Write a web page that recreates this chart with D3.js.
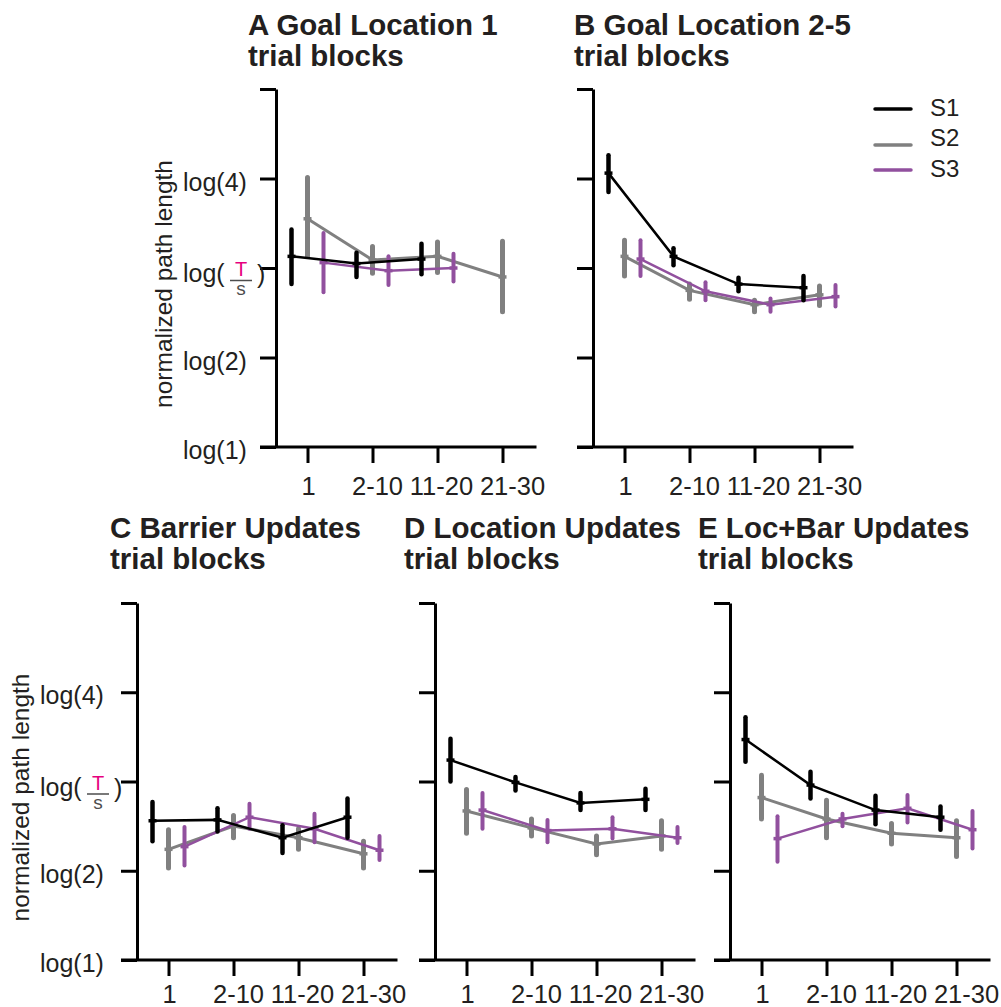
<!DOCTYPE html>
<html>
<head>
<meta charset="utf-8">
<script src="https://cdn.jsdelivr.net/npm/d3@7"></script>
<style>
  body { margin: 0; background: #fff; }
  svg { display: block; font-family: "Liberation Sans", Arial, Helvetica, sans-serif; }
</style>
</head>
<body>
<div id="chart"></div>
<script>
const width = 1001, height = 1007;

const blocks = ["1", "2-10", "11-20", "21-30"];
const subjects = ["S1", "S2", "S3"];
const subjectColors = ["#000000", "#808080", "#91509e"];
const yTickValues = [0, 1, 2, 3, 4];
const yTickLabels = ["log(1)", "log(2)", "log(T/S)", "log(4)", ""];

// each entry: [mean, low, high], null = no point
const goal1_S1 = [[2.13, 1.82, 2.43], [2.05, 1.90, 2.17], [2.10, 1.93, 2.27], null];
const goal1_S2 = [[2.55, 2.13, 3.01], [2.09, 1.94, 2.24], [2.13, 1.95, 2.29], [1.90, 1.51, 2.30]];
const goal1_S3 = [[2.06, 1.73, 2.39], [1.97, 1.81, 2.13], [2.00, 1.85, 2.16], null];

const goal25_S1 = [[3.06, 2.85, 3.26], [2.13, 2.03, 2.22], [1.82, 1.74, 1.89], [1.78, 1.64, 1.91]];
const goal25_S2 = [[2.13, 1.91, 2.31], [1.75, 1.65, 1.82], [1.59, 1.51, 1.64], [1.70, 1.58, 1.80]];
const goal25_S3 = [[2.10, 1.91, 2.31], [1.74, 1.64, 1.84], [1.59, 1.51, 1.66], [1.68, 1.57, 1.81]];

const barrier_S1 = [[1.56, 1.33, 1.77], [1.57, 1.44, 1.70], [1.37, 1.20, 1.51], [1.60, 1.37, 1.81]];
const barrier_S2 = [[1.24, 1.03, 1.46], [1.50, 1.37, 1.62], [1.37, 1.24, 1.47], [1.19, 1.03, 1.33]];
const barrier_S3 = [[1.27, 1.06, 1.49], [1.60, 1.47, 1.75], [1.47, 1.32, 1.64], [1.23, 1.12, 1.39]];

const location_S1 = [[2.24, 2.00, 2.48], [1.99, 1.90, 2.05], [1.76, 1.68, 1.87], [1.80, 1.68, 1.92]];
const location_S2 = [[1.67, 1.42, 1.91], [1.48, 1.39, 1.58], [1.30, 1.18, 1.39], [1.39, 1.24, 1.56]];
const location_S3 = [[1.68, 1.47, 1.87], [1.45, 1.32, 1.57], [1.47, 1.36, 1.60], [1.37, 1.31, 1.49]];

const locbar_S1 = [[2.47, 2.22, 2.72], [1.96, 1.81, 2.11], [1.68, 1.52, 1.84], [1.60, 1.46, 1.72]];
const locbar_S2 = [[1.82, 1.58, 2.07], [1.58, 1.37, 1.79], [1.42, 1.30, 1.53], [1.37, 1.16, 1.56]];
const locbar_S3 = [[1.36, 1.10, 1.61], [1.58, 1.50, 1.64], [1.70, 1.54, 1.85], [1.46, 1.25, 1.67]];

const panels = [
  { letter: "A", name: "Goal Location 1", series: [goal1_S1, goal1_S2, goal1_S3],
    axisX: 276, top: 89, bottom: 447, titleX: 248, titleY: 35, labelX: 183, xLabelDy: 48 },
  { letter: "B", name: "Goal Location 2-5", series: [goal25_S1, goal25_S2, goal25_S3],
    axisX: 593, top: 89, bottom: 447, titleX: 574, titleY: 35, labelX: null, xLabelDy: 48 },
  { letter: "C", name: "Barrier Updates", series: [barrier_S1, barrier_S2, barrier_S3],
    axisX: 137, top: 603, bottom: 960, titleX: 110, titleY: 538, labelX: 40, xLabelDy: 43 },
  { letter: "D", name: "Location Updates", series: [location_S1, location_S2, location_S3],
    axisX: 435, top: 603, bottom: 960, titleX: 404, titleY: 538, labelX: null, xLabelDy: 43 },
  { letter: "E", name: "Loc+Bar Updates", series: [locbar_S1, locbar_S2, locbar_S3],
    axisX: 730, top: 603, bottom: 960, titleX: 698, titleY: 538, labelX: null, xLabelDy: 43 }
];

const svg = d3.select("#chart").append("svg")
  .attr("width", width)
  .attr("height", height);

const tickLen = 16;
const offsets = [-16, 0, 16];      // S1 / S2 / S3 shift around each block
const lineWidths = [2.5, 3, 2.5];
const barWidths = [4.5, 5, 4];
const drawOrder = [1, 2, 0];
const xLabelShift = [1, 5, 4, 10];  // labels sit a bit right of their ticks in the original

panels.forEach(p => {
  const g = svg.append("g");

  const x = d3.scalePoint()
    .domain(blocks)
    .range([p.axisX + 31.5, p.axisX + 31.5 + 195]);
  const y = d3.scaleLinear()
    .domain([0, 4])
    .range([p.bottom, p.top]);

  // title
  const title = g.append("text")
    .attr("x", p.titleX)
    .attr("y", p.titleY)
    .attr("font-size", 29.5)
    .attr("font-weight", "bold")
    .attr("fill", "#231f20");
  title.append("tspan").text(p.letter + " " + p.name);
  title.append("tspan")
    .attr("x", p.titleX)
    .attr("dy", 31)
    .text("trial blocks");

  // y axis
  const yAxis = g.append("g")
    .attr("transform", `translate(${p.axisX},0)`)
    .call(d3.axisLeft(y).tickValues(yTickValues).tickSize(tickLen).tickSizeOuter(0).tickFormat(""));
  yAxis.selectAll("path, line").attr("stroke", "#000").attr("stroke-width", 3);

  // x axis line, starts under the log(1) tick
  g.append("line")
    .attr("x1", p.axisX - tickLen).attr("x2", x(blocks[3]) + 34)
    .attr("y1", p.bottom).attr("y2", p.bottom)
    .attr("stroke", "#000").attr("stroke-width", 3);

  const xAxis = g.append("g")
    .attr("transform", `translate(0,${p.bottom})`)
    .call(d3.axisBottom(x).tickSize(tickLen).tickSizeOuter(0).tickFormat(""));
  xAxis.select(".domain").remove();
  xAxis.selectAll("line").attr("stroke", "#000").attr("stroke-width", 3);

  g.selectAll("text.xlab")
    .data(blocks)
    .enter().append("text")
    .attr("class", "xlab")
    .attr("x", (d, i) => x(d) + xLabelShift[i])
    .attr("y", p.bottom + p.xLabelDy)
    .attr("text-anchor", "middle")
    .attr("font-size", 25.5)
    .attr("fill", "#231f20")
    .text(d => d);

  // y tick labels + axis title only on the left panels
  if (p.labelX !== null) {
    yTickLabels.forEach((lab, i) => {
      const ty = y(yTickValues[i]);
      if (lab === "") return;
      if (lab === "log(T/S)") {
        g.append("text")
          .attr("x", p.labelX).attr("y", ty + 14)
          .attr("font-size", 25).attr("fill", "#231f20")
          .text("log(");
        const fx = p.labelX + 58;
        g.append("text")
          .attr("x", fx).attr("y", ty + 8)
          .attr("text-anchor", "middle")
          .attr("font-size", 20).attr("fill", "#e6007e")
          .text("T");
        g.append("line")
          .attr("x1", fx - 11).attr("x2", fx + 11)
          .attr("y1", ty + 12.5).attr("y2", ty + 12.5)
          .attr("stroke", "#4d4d4d").attr("stroke-width", 1.5);
        g.append("text")
          .attr("x", fx).attr("y", ty + 27)
          .attr("text-anchor", "middle")
          .attr("font-size", 19).attr("fill", "#4d4d4d")
          .text("s");
        g.append("text")
          .attr("x", fx + 16).attr("y", ty + 15)
          .attr("font-size", 25).attr("fill", "#231f20")
          .text(")");
      } else {
        g.append("text")
          .attr("x", p.labelX).attr("y", ty + 12)
          .attr("font-size", 25).attr("fill", "#231f20")
          .text(lab);
      }
    });

    const cy = (p.top + p.bottom) / 2 + 16;
    g.append("text")
      .attr("transform", `translate(${p.labelX - 11},${cy}) rotate(-90)`)
      .attr("text-anchor", "middle")
      .attr("font-size", 24.5)
      .attr("fill", "#231f20")
      .text("normalized path length");
  }

  // series: line, error bars, mean markers
  drawOrder.forEach(si => {
    const pts = p.series[si].map((d, i) => d ? { block: blocks[i], m: d[0], lo: d[1], hi: d[2] } : null)
      .filter(d => d);
    const px = d => x(d.block) + offsets[si];
    const col = subjectColors[si];

    g.append("path")
      .datum(pts)
      .attr("fill", "none")
      .attr("stroke", col)
      .attr("stroke-width", lineWidths[si])
      .attr("d", d3.line().x(px).y(d => y(d.m)));

    g.selectAll(null)
      .data(pts)
      .enter().append("line")
      .attr("x1", px).attr("x2", px)
      .attr("y1", d => y(d.lo)).attr("y2", d => y(d.hi))
      .attr("stroke", col)
      .attr("stroke-width", barWidths[si])
      .attr("stroke-linecap", "round");

    g.selectAll(null)
      .data(pts)
      .enter().append("line")
      .attr("x1", d => px(d) - 4).attr("x2", d => px(d) + 4)
      .attr("y1", d => y(d.m)).attr("y2", d => y(d.m))
      .attr("stroke", col)
      .attr("stroke-width", 3.5);
  });
});

// legend
const legendY = [109, 145, 170];
const legendTextY = [116, 146, 177];
const legend = svg.append("g");
subjects.forEach((s, i) => {
  legend.append("line")
    .attr("x1", 875).attr("x2", 911)
    .attr("y1", legendY[i]).attr("y2", legendY[i])
    .attr("stroke", subjectColors[i])
    .attr("stroke-width", 3.5)
    .attr("stroke-linecap", "round");
  legend.append("text")
    .attr("x", 930).attr("y", legendTextY[i])
    .attr("font-size", 24)
    .attr("fill", "#231f20")
    .text(s);
});
</script>
</body>
</html>
